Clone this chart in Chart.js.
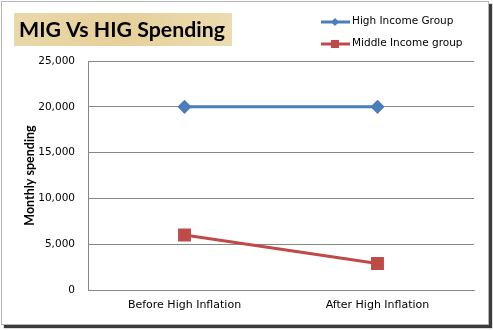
<!DOCTYPE html>
<html>
<head>
<meta charset="utf-8">
<script src="https://cdn.jsdelivr.net/npm/chart.js@4"></script>
<style>
  html, body { margin: 0; padding: 0; background: #fff; }
  #frame {
    position: absolute; left: 1px; top: 1px; width: 486px; height: 322px;
    border: 1px solid #b4b4b4;
    box-shadow: 3px 3px 1px #3a3a3a;
    background: #fff;
  }
  #wrap { position: absolute; left: 0; top: 0; width: 493px; height: 330px; }
</style>
</head>
<body>
<div id="frame"></div>
<div id="wrap"><canvas id="chart" width="493" height="330"></canvas></div>
<script>
const chartTitle = "MIG Vs HIG Spending";
const periods = ["Before High Inflation", "After High Inflation"];
const highIncome = [20000, 20000];
const middleIncome = [6000, 2900];
const seriesNames = ["High Income Group", "Middle Income group"];

const titleBox = {
  id: "titleBox",
  afterDraw(chart) {
    const ctx = chart.ctx;
    ctx.save();
    const g = ctx.createLinearGradient(14, 13, 232, 46);
    g.addColorStop(0, "#ead8a9");
    g.addColorStop(0.5, "#e6d09b");
    g.addColorStop(1, "#ecdcb0");
    ctx.fillStyle = g;
    ctx.fillRect(14, 13, 218, 33);
    ctx.fillStyle = "#000";
    ctx.font = "bold 21.3px Lato";
    ctx.textBaseline = "alphabetic";
    ctx.fillText(chartTitle, 19, 37);
    ctx.restore();
  }
};

const sideLegend = {
  id: "sideLegend",
  afterDraw(chart) {
    const ctx = chart.ctx;
    ctx.save();
    chart.data.datasets.forEach((ds, i) => {
      const y = 22 + i * 22;
      ctx.strokeStyle = ds.borderColor;
      ctx.lineWidth = 3;
      ctx.beginPath();
      ctx.moveTo(321, y);
      ctx.lineTo(350, y);
      ctx.stroke();
      ctx.fillStyle = ds.backgroundColor;
      if (ds.pointStyle === "rectRot") {
        ctx.beginPath();
        ctx.moveTo(335, y - 4);
        ctx.lineTo(339, y);
        ctx.lineTo(335, y + 4);
        ctx.lineTo(331, y);
        ctx.closePath();
        ctx.fill();
      } else {
        ctx.fillRect(331, y - 4, 8, 8);
      }
      ctx.fillStyle = "#000";
      ctx.font = "10.5px 'DejaVu Sans'";
      ctx.textBaseline = "middle";
      ctx.fillText(ds.label, 352, y - 1);
    });
    ctx.restore();
  }
};

new Chart(document.getElementById("chart"), {
  type: "line",
  data: {
    labels: periods,
    datasets: [
      {
        label: seriesNames[0],
        data: highIncome,
        borderColor: "#4a7ebb",
        backgroundColor: "#4a7ebb",
        borderWidth: 3,
        pointStyle: "rectRot",
        pointRadius: 5,
        pointHoverRadius: 5,
      },
      {
        label: seriesNames[1],
        data: middleIncome,
        borderColor: "#be4b48",
        backgroundColor: "#be4b48",
        borderWidth: 3,
        pointStyle: "rect",
        pointRadius: 7,
        pointHoverRadius: 7,
      },
    ],
  },
  options: {
    responsive: false,
    animation: false,
    layout: { padding: { left: 18, top: 61, right: 19, bottom: 0 } },
    plugins: {
      legend: { display: false },
      title: { display: false },
      tooltip: { enabled: false },
    },
    scales: {
      x: {
        offset: true,
        grid: { display: false, drawTicks: false },
        border: { color: "#868686", width: 1 },
        ticks: { color: "#000", font: { family: "DejaVu Sans", size: 11 }, padding: 9 },
        afterFit: (s) => { s.height = 40; },
      },
      y: {
        min: 0,
        max: 25000,
        grid: { color: "#868686", drawTicks: false },
        border: { color: "#868686", width: 1 },
        ticks: {
          stepSize: 5000,
          color: "#000",
          padding: 13,
          font: { family: "DejaVu Sans", size: 10.5 },
          callback: (v) => v.toLocaleString("en-US"),
        },
        title: {
          display: true,
          text: "Monthly spending",
          color: "#000",
          font: { family: "Lato", size: 12.5, weight: "bold" },
          padding: { top: 4, bottom: 0 },
        },
        afterFit: (s) => { s.width = 70; },
      },
    },
  },
  plugins: [titleBox, sideLegend],
});
</script>
</body>
</html>
